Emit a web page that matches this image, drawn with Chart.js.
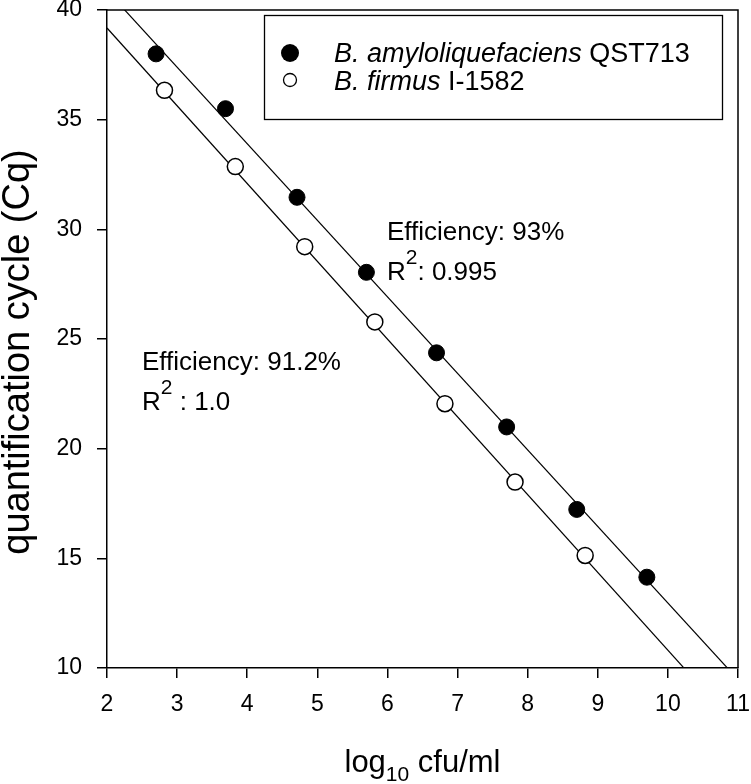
<!DOCTYPE html>
<html><head><meta charset="utf-8">
<script src="https://cdn.jsdelivr.net/npm/chart.js@4.4.1/dist/chart.umd.min.js"></script>
<style>html,body{margin:0;padding:0;background:#fff}#wrap{width:751px;height:784px;position:relative}</style>
</head><body><div id="wrap"><canvas id="c" width="751" height="784"></canvas></div>
<script>
const seriesNames = ['B. amyloliquefaciens QST713', 'B. firmus I-1582'];
const amyloX = [2.70, 3.69, 4.71, 5.70, 6.70, 7.70, 8.70, 9.70];
const amyloY = [38.0, 35.5, 31.46, 28.04, 24.37, 20.99, 17.23, 14.14];
const firmusX = [2.82, 3.83, 4.82, 5.82, 6.82, 7.82, 8.82];
const firmusY = [36.34, 32.86, 29.21, 25.78, 22.05, 18.48, 15.13];
const fitSlope = [-3.49, -3.546];
const fitIntercept = [47.863, 46.272];
const xTicks = [2, 3, 4, 5, 6, 7, 8, 9, 10, 11];
const yTicks = [10, 15, 20, 25, 30, 35, 40];
const annotA = ['Efficiency: 93%', '0.995'];
const annotB = ['Efficiency: 91.2%', '1.0'];
const xTitle = ['log', '10', ' cfu/ml'];
const yTitle = 'quantification cycle (Cq)';

const FONT = "'Liberation Sans', Arial, sans-serif";
Chart.defaults.font.family = FONT;
Chart.defaults.font.size = 23;
Chart.defaults.color = '#000';

const pts = (xs, ys) => xs.map((x, i) => ({x: x, y: ys[i]}));
const fitLine = (k) => [xTicks[0], xTicks[xTicks.length - 1]].map(x => ({x: x, y: fitIntercept[k] + fitSlope[k] * x}));

const overlay = {
  id: 'overlay',
  afterDraw(chart) {
    const ctx = chart.ctx;
    const a = chart.chartArea;
    ctx.save();
    ctx.strokeStyle = '#000'; ctx.lineWidth = 1.5;
    ctx.beginPath();
    ctx.moveTo(a.left, a.top); ctx.lineTo(a.right, a.top); ctx.lineTo(a.right, a.bottom);
    ctx.stroke();
    // legend
    ctx.lineWidth = 1.3;
    ctx.strokeRect(264.5, 15.5, 458, 104);
    ctx.fillStyle = '#000';
    ctx.beginPath(); ctx.arc(290, 53, 9, 0, Math.PI * 2); ctx.fill();
    ctx.beginPath(); ctx.arc(290, 80, 6.5, 0, Math.PI * 2); ctx.fillStyle = '#fff'; ctx.fill(); ctx.lineWidth = 1.3; ctx.stroke();
    ctx.fillStyle = '#000';
    ctx.textBaseline = 'alphabetic'; ctx.textAlign = 'left';
    const legendLine = (x, y, it, up) => {
      ctx.font = 'italic 27px ' + FONT; ctx.fillText(it, x, y);
      const w = ctx.measureText(it).width;
      ctx.font = '27px ' + FONT; ctx.fillText(up, x + w, y);
    };
    legendLine(334, 62, 'B. amyloliquefaciens', ' QST713');
    legendLine(334, 90, 'B. firmus', ' I-1582');
    // annotations
    const annot = (x, y, lines, gap) => {
      ctx.font = '26px ' + FONT;
      ctx.fillText(lines[0], x, y);
      ctx.fillText('R', x, y + 40);
      const rw = ctx.measureText('R').width;
      ctx.font = '21px ' + FONT;
      ctx.fillText('2', x + rw, y + 24);
      const sw = ctx.measureText('2').width;
      ctx.font = '26px ' + FONT;
      ctx.fillText(gap + ': ' + lines[1], x + rw + sw, y + 40);
    };
    annot(387, 240, annotA, '');
    annot(142, 370, annotB, ' ');
    // x title
    ctx.font = '31px ' + FONT;
    const w1 = ctx.measureText(xTitle[0]).width;
    const w3 = ctx.measureText(xTitle[2]).width;
    ctx.font = '21px ' + FONT;
    const w2 = ctx.measureText(xTitle[1]).width;
    let x0 = (a.left + a.right) / 2 - (w1 + w2 + w3) / 2;
    ctx.font = '31px ' + FONT; ctx.fillText(xTitle[0], x0, 772);
    ctx.font = '21px ' + FONT; ctx.fillText(xTitle[1], x0 + w1, 781);
    ctx.font = '31px ' + FONT; ctx.fillText(xTitle[2], x0 + w1 + w2, 772);
    // y title
    ctx.translate(29, 352);
    ctx.rotate(-Math.PI / 2);
    ctx.textAlign = 'center';
    ctx.font = '38px ' + FONT;
    ctx.fillText(yTitle, 0, 0);
    ctx.restore();
  }
};

const axisCommon = {
  grid: {display: true, drawOnChartArea: false, drawTicks: true, tickLength: 10, color: '#000', lineWidth: 1.5},
  border: {display: true, color: '#000', width: 1.5}
};

new Chart(document.getElementById('c'), {
  type: 'scatter',
  data: {
    datasets: [
      {label: seriesNames[0], data: pts(amyloX, amyloY), pointRadius: 8, pointBackgroundColor: '#000', pointBorderColor: '#000', pointBorderWidth: 1, showLine: false},
      {label: seriesNames[1], data: pts(firmusX, firmusY), pointRadius: 8, pointBackgroundColor: '#fff', pointBorderColor: '#000', pointBorderWidth: 1.5, showLine: false},
      {type: 'line', label: 'fitA', data: fitLine(0), borderColor: '#000', borderWidth: 1.2, pointRadius: 0, fill: false},
      {type: 'line', label: 'fitB', data: fitLine(1), borderColor: '#000', borderWidth: 1.2, pointRadius: 0, fill: false}
    ]
  },
  options: {
    responsive: false, animation: false, devicePixelRatio: 1,
    layout: {padding: {left: 0, top: 10, right: 13, bottom: 0}},
    plugins: {legend: {display: false}, tooltip: {enabled: false}},
    scales: {
      x: Object.assign({}, axisCommon, {
        type: 'linear', min: xTicks[0], max: xTicks[xTicks.length - 1],
        afterBuildTicks: (s) => { s.ticks = xTicks.map(v => ({value: v})); },
        ticks: {color: '#000', font: () => ({family: FONT, size: 23}), padding: 13, maxRotation: 0, autoSkip: false},
        afterFit: (s) => { s.height = 116; s.paddingLeft = 0; s.paddingRight = 0; }
      }),
      y: Object.assign({}, axisCommon, {
        type: 'linear', min: yTicks[0], max: yTicks[yTicks.length - 1],
        afterBuildTicks: (s) => { s.ticks = yTicks.map(v => ({value: v})); },
        ticks: {color: '#000', font: () => ({family: FONT, size: 23}), padding: 15, autoSkip: false},
        afterFit: (s) => { s.width = 107; s.paddingTop = 0; s.paddingBottom = 0; }
      })
    }
  },
  plugins: [overlay]
});
</script>
</body></html>
